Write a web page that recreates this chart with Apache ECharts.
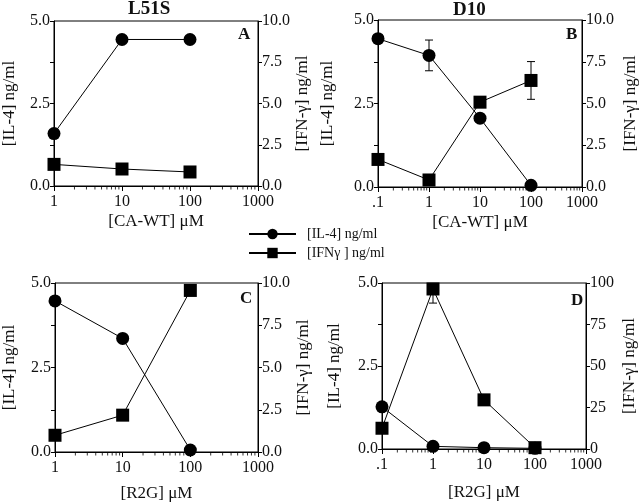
<!DOCTYPE html>
<html><head><meta charset="utf-8">
<script src="https://cdn.jsdelivr.net/npm/echarts@6/dist/echarts.min.js"></script>
<style>html,body{margin:0;padding:0;background:#fff}#c{width:640px;height:503px}</style>
</head><body><div id="c"></div>
<script>
// ---- data ----
const xA = [1, 10, 100];
const il4A = [1.59, 4.44, 4.44];
const ifnA = [1.31, 1.03, 0.85];

const xB = [0.1, 1, 10, 100];
const il4B = [4.44, 3.94, 2.06, 0.05];
const ifnB = [1.65, 0.42, 5.08, 6.38];
const il4BErr = [0, 0.46, 0, 0];
const ifnBErr = [0, 0, 0, 1.13];

const xC = [1, 10, 100];
const il4C = [4.47, 3.36, 0.06];
const ifnC = [0.99, 2.18, 9.56];

const xD = [0.1, 1, 10, 100];
const il4D = [1.27, 0.08, 0.04, 0.02];
const ifnD = [12.5, 96.4, 29.6, 0.8];
const ifnDErrLow = [0, 8.5, 0, 0];

const titles = ['L51S', 'D10'];
const panelLetters = ['A', 'B', 'C', 'D'];
const xNames = ['[CA-WT] \u03bcM', '[CA-WT] \u03bcM', '[R2G] \u03bcM', '[R2G] \u03bcM'];
const leftName = '[IL-4] ng/ml';
const rightName = '[IFN-\u03b3] ng/ml';
const il4Label = '[IL-4] ng/ml';
const ifnLabel = '[IFN\u03b3 ] ng/ml';
const xMins = [1, 0.1, 1, 0.1];
const rightMax = [10, 10, 10, 100];
const rightInterval = [2.5, 2.5, 2.5, 25];
const multipliers = [2, 3, 4, 5, 6, 7, 8, 9];

// ---- layout ----
const FONT = 'Liberation Serif';
const grids = [
  {left: 51, width: 207, top: 21, height: 165},
  {left: 378, width: 205, top: 20, height: 167},
  {left: 53, width: 205, top: 283, height: 169},
  {left: 382, width: 204, top: 283, height: 166}
];
const leftGaps = [36, 42, 37, 39];
const rightGaps = [34, 40, 37, 35];
const xGaps = [27, 27, 33, 35];

function minorVals(min) {
  const out = [];
  for (let p = min; p < 999; p *= 10) {
    multipliers.forEach(k => out.push(+(p * k).toPrecision(6)));
  }
  return out;
}
const black = '#000';
const tickLbl = {fontFamily: FONT, fontSize: 16, color: '#111'};

const xAxes = [], yAxes = [], series = [];
grids.forEach((g, i) => {
  xAxes.push({
    type: 'log', logBase: 10, gridIndex: i, min: xMins[i], max: 1000,
    name: xNames[i], nameLocation: 'middle', nameGap: xGaps[i],
    nameTextStyle: {fontFamily: FONT, fontSize: 17, color: '#111', verticalAlign: 'top'},
    axisLine: {show: true, lineStyle: {color: black, width: 1}},
    axisTick: {show: true, length: 5, lineStyle: {color: black, width: 1}},
    axisLabel: {...tickLbl, margin: 8,
      formatter: v => v < 0.5 ? '.1' : String(Math.round(v))},
    splitLine: {show: false}
  });
  yAxes.push({
    type: 'value', gridIndex: i, position: 'left', min: 0, max: 5, interval: 1.25,
    name: leftName, nameLocation: 'middle', nameGap: leftGaps[i], nameRotate: 90,
    nameTextStyle: {fontFamily: FONT, fontSize: 17, color: '#111'},
    axisLine: {show: true, lineStyle: {color: black}},
    axisTick: {show: true, length: 4, lineStyle: {color: black, width: 1}},
    axisLabel: {...tickLbl, margin: 4,
      formatter: v => (Math.abs(v / 2.5 - Math.round(v / 2.5)) < 1e-6 ? v.toFixed(1) : '')},
    splitLine: {show: false}
  });
  yAxes.push({
    type: 'value', gridIndex: i, position: 'right', min: 0, max: rightMax[i], interval: rightInterval[i],
    name: rightName, nameLocation: 'middle', nameGap: rightGaps[i], nameRotate: 90,
    nameTextStyle: {fontFamily: FONT, fontSize: 17, color: '#111'},
    axisLine: {show: true, lineStyle: {color: black}},
    axisTick: {show: true, length: 4, lineStyle: {color: black, width: 1}},
    axisLabel: {...tickLbl, margin: 4, formatter: v => rightMax[i] === 100 ? String(v) : v.toFixed(1)},
    splitLine: {show: false}
  });
  // minor log ticks on the x axis, placed through the axis scale
  series.push({
    type: 'scatter', xAxisIndex: i, yAxisIndex: 2 * i, z: 5, silent: true, clip: false,
    data: minorVals(xMins[i]).map(v => [v, 0]),
    symbol: 'rect', symbolSize: [1, 3], symbolOffset: [0, 2],
    itemStyle: {color: black}
  });
});

const panels = [
  {x: xA, il4: il4A, ifn: ifnA},
  {x: xB, il4: il4B, ifn: ifnB},
  {x: xC, il4: il4C, ifn: ifnC},
  {x: xD, il4: il4D, ifn: ifnD}
];
panels.forEach((p, i) => {
  series.push({
    name: il4Label, type: 'line', xAxisIndex: i, yAxisIndex: 2 * i,
    data: p.x.map((x, k) => [x, p.il4[k]]),
    symbol: 'circle', symbolSize: 13, clip: false, z: 3,
    lineStyle: {color: black, width: 1}, itemStyle: {color: black}
  });
  series.push({
    name: ifnLabel, type: 'line', xAxisIndex: i, yAxisIndex: 2 * i + 1,
    data: p.x.map((x, k) => [x, p.ifn[k]]),
    symbol: 'rect', symbolSize: 13, clip: false, z: 3,
    lineStyle: {color: black, width: 1}, itemStyle: {color: black}
  });
});

function errSeries(xi, yi, data) {
  return {
    type: 'custom', xAxisIndex: xi, yAxisIndex: yi, z: 2, silent: true,
    encode: {x: 0, y: [1, 2]},
    data: data,
    renderItem: (params, api) => {
      const x = api.value(0);
      const lo = api.coord([x, api.value(1)]);
      const hi = api.coord([x, api.value(2)]);
      const w = 4;
      const st = {stroke: black, lineWidth: 1};
      return {type: 'group', children: [
        {type: 'line', shape: {x1: lo[0], y1: lo[1], x2: hi[0], y2: hi[1]}, style: st},
        {type: 'line', shape: {x1: lo[0] - w, y1: lo[1], x2: lo[0] + w, y2: lo[1]}, style: st},
        {type: 'line', shape: {x1: hi[0] - w, y1: hi[1], x2: hi[0] + w, y2: hi[1]}, style: st}
      ]};
    }
  };
}
const eB1 = [], eB2 = [], eD = [];
xB.forEach((x, k) => {
  if (il4BErr[k] > 0) eB1.push([x, il4B[k] - il4BErr[k], il4B[k] + il4BErr[k]]);
  if (ifnBErr[k] > 0) eB2.push([x, ifnB[k] - ifnBErr[k], ifnB[k] + ifnBErr[k]]);
});
xD.forEach((x, k) => {
  if (ifnDErrLow[k] > 0) eD.push([x, ifnD[k] - ifnDErrLow[k], ifnD[k]]);
});
series.push(errSeries(1, 2, eB1));
series.push(errSeries(1, 3, eB2));
series.push(errSeries(3, 7, eD));

const graphics = [
  {type: 'text', left: 128, top: 0, style: {text: titles[0], font: 'bold 19px "Liberation Serif"', fill: '#111'}},
  {type: 'text', left: 453, top: 1, style: {text: titles[1], font: 'bold 19px "Liberation Serif"', fill: '#111'}},
  {type: 'text', left: 238, top: 26, style: {text: panelLetters[0], font: 'bold 17px "Liberation Serif"', fill: '#111'}},
  {type: 'text', left: 566, top: 26, style: {text: panelLetters[1], font: 'bold 17px "Liberation Serif"', fill: '#111'}},
  {type: 'text', left: 240, top: 290, style: {text: panelLetters[2], font: 'bold 17px "Liberation Serif"', fill: '#111'}},
  {type: 'text', left: 571, top: 292, style: {text: panelLetters[3], font: 'bold 17px "Liberation Serif"', fill: '#111'}}
];

const chart = echarts.init(document.getElementById('c'), null, {renderer: 'canvas'});
chart.setOption({
  animation: false,
  backgroundColor: '#fff',
  grid: grids.map(g => ({...g, show: true, borderColor: black, borderWidth: 1, backgroundColor: 'transparent', containLabel: false})),
  xAxis: xAxes,
  yAxis: yAxes,
  legend: {
    data: [il4Label, ifnLabel], orient: 'vertical', left: 243, top: 222,
    itemWidth: 47, itemHeight: 13, itemGap: 5,
    textStyle: {fontFamily: FONT, fontSize: 14, color: '#111', padding: [0, 0, 0, 6]}
  },
  graphic: graphics,
  series: series
});
</script></body></html>
